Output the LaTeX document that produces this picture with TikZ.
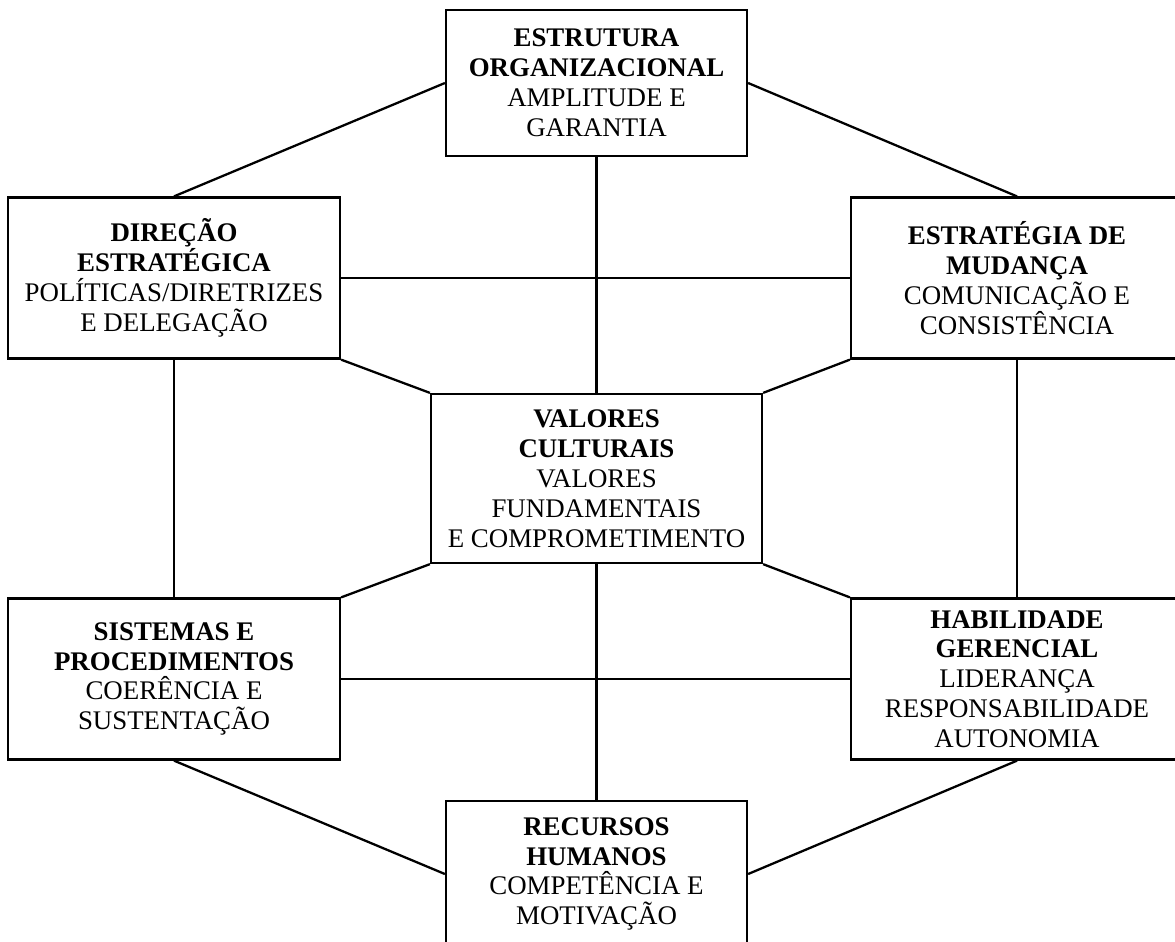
\documentclass[tikz,border=0pt]{standalone}
\usepackage{fontspec}
\setmainfont{Liberation Serif}
\begin{document}
\begin{tikzpicture}[x=0.02cm,y=-0.02cm,
  box/.style={draw,line width=1.3pt,align=center,inner sep=0pt,
    font=\fontsize{15.3}{17}\selectfont},
  wide/.style={box,minimum width=6.64cm,minimum height=3.22cm},
  narrow/.style={box,minimum width=6.02cm,minimum height=2.92cm},
  link/.style={line width=1.3pt}]
\useasboundingbox (0,0) rectangle (1175,941);
\clip (0,0) rectangle (1175,941);
% top bot
\node[narrow] (est) at (596.5,83) {\textbf{ESTRUTURA}\\\textbf{ORGANIZACIONAL}\\AMPLITUDE E\\GARANTIA};
\node[narrow] (rec) at (596.5,874) {\textbf{RECURSOS}\\\textbf{HUMANOS}\\COMPETÊNCIA E\\MOTIVAÇÃO};
% left
\node[wide] (dir) at (174,278) {\textbf{DIREÇÃO}\\\textbf{ESTRATÉGICA}\\POLÍTICAS/DIRETRIZES\\E DELEGAÇÃO};
\node[wide] (sis) at (174,679) {\textbf{SISTEMAS E}\\\textbf{PROCEDIMENTOS}\\COERÊNCIA E\\SUSTENTAÇÃO};
% right
\node[wide] (mud) at (1017,278) {\textbf{ESTRATÉGIA DE}\\\textbf{MUDANÇA}\\COMUNICAÇÃO E\\CONSISTÊNCIA};
\node[wide] (hab) at (1017,679) {\textbf{HABILIDADE}\\\textbf{GERENCIAL}\\LIDERANÇA\\RESPONSABILIDADE\\AUTONOMIA};
% centre
\node[box,minimum width=6.62cm,minimum height=3.38cm] (val) at (596.5,478.5) {\textbf{VALORES}\\\textbf{CULTURAIS}\\VALORES\\FUNDAMENTAIS\\E COMPROMETIMENTO};
% lines
\draw[link] (est.west) -- (dir.north);
\draw[link] (est.east) -- (mud.north);
\draw[link] (est.south) -- (val.north);
\draw[link] (dir.east) -- (mud.west);
\draw[link] (dir.south) -- (sis.north);
\draw[link] (dir.south east) -- (val.north west);
\draw[link] (mud.south west) -- (val.north east);
\draw[link] (mud.south) -- (hab.north);
\draw[link] (val.south west) -- (sis.north east);
\draw[link] (val.south east) -- (hab.north west);
\draw[link] (val.south) -- (rec.north);
\draw[link] (sis.east) -- (hab.west);
\draw[link] (sis.south) -- (rec.west);
\draw[link] (hab.south) -- (rec.east);
\end{tikzpicture}
\end{document}
